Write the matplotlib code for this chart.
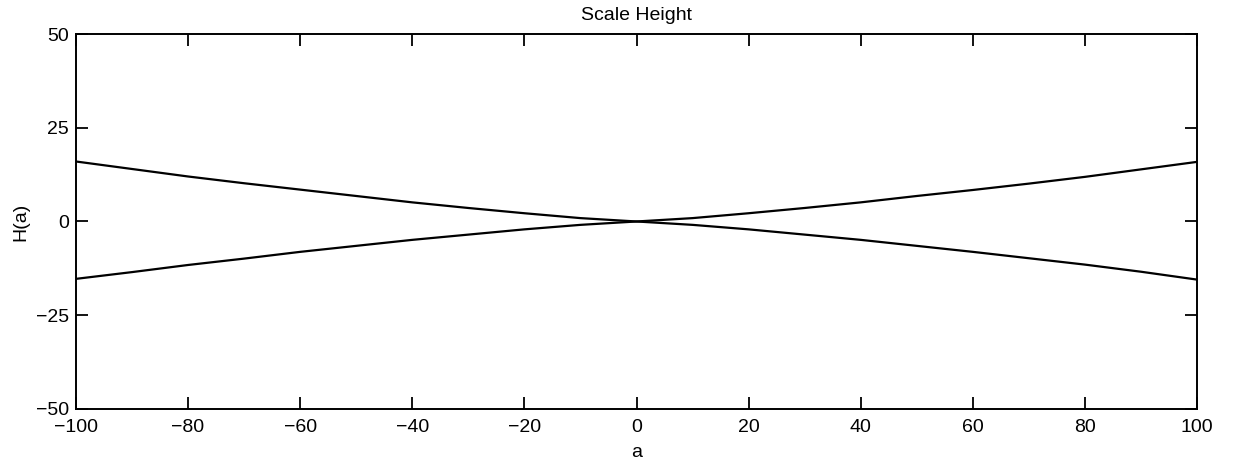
import matplotlib.pyplot as plt

# values
a = [-100, -90, -80, -70, -60, -50, -40, -30, -20, -10, 0,
     10, 20, 30, 40, 50, 60, 70, 80, 90, 100]
h_upper = [16.0, 14.0, 12.0, 10.2, 8.5, 6.8, 5.1, 3.6, 2.2, 0.9, 0.0,
           0.9, 2.2, 3.6, 5.1, 6.8, 8.4, 10.1, 11.9, 13.9, 15.9]
h_lower = [-15.3, -13.5, -11.6, -9.9, -8.1, -6.5, -4.9, -3.5, -2.1, -0.9, 0.0,
           -0.9, -2.1, -3.5, -4.9, -6.5, -8.1, -9.8, -11.5, -13.4, -15.5]
xticks = [-100, -80, -60, -40, -20, 0, 20, 40, 60, 80, 100]
yticks = [-50, -25, 0, 25, 50]

plt.rcParams['font.family'] = ['Liberation Sans', 'DejaVu Sans']
plt.rcParams['font.size'] = 14

fig = plt.figure(figsize=(12.41, 4.69), dpi=100)
ax = fig.add_axes([0.0612, 0.128, 0.9034, 0.7995])

ax.plot(a, h_upper, c='black', lw=1.6)
ax.plot(a, h_lower, c='black', lw=1.6)

ax.set_xlim(-100, 100)
ax.set_ylim(-50, 50)
ax.set_xticks(xticks)
ax.set_yticks(yticks)
ax.tick_params(direction='in', length=8.5, width=1.3, top=True, right=True)
ax.tick_params(axis='x', pad=7)
ax.tick_params(axis='y', pad=5)
for s in ax.spines.values():
    s.set_linewidth(1.4)

ax.set_title("Scale Height", fontsize=14, pad=10)
ax.set_xlabel("a", labelpad=6)
ax.set_ylabel("H(a)", labelpad=5)

fig.savefig("out.png", dpi=100)
